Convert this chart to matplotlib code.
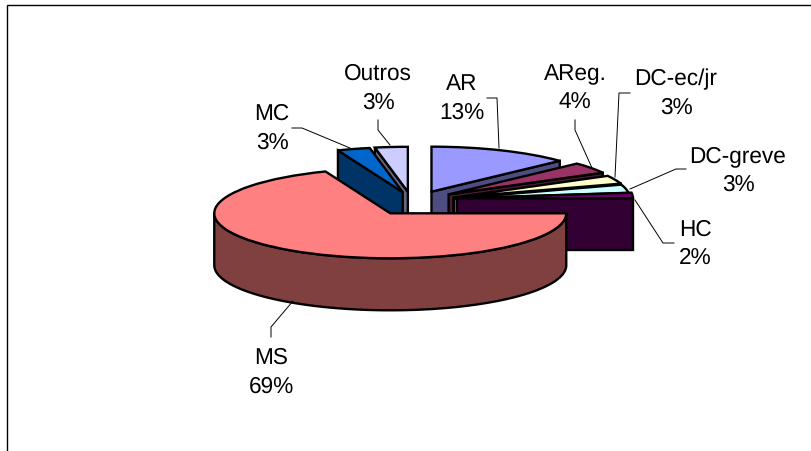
import numpy as np
import matplotlib
matplotlib.use("Agg")
import matplotlib.pyplot as plt
from matplotlib.patches import Polygon

plt.rcParams["font.family"] = ["Liberation Sans", "DejaVu Sans"]
plt.rcParams["text.hinting"] = "none"

# slices, clockwise from 12 o'clock
categories = ["AR", "AReg.", "DC-ec/jr", "DC-greve", "HC", "MS", "MC", "Outros"]
values = [13, 4, 3, 3, 2, 69, 3, 3]

top_colors = ["#9999FF", "#993366", "#FFFFCC", "#CCFFFF", "#660066", "#FF8080", "#0066CC", "#CCCCFF"]
side_colors = ["#4D4D80", "#4D1A33", "#808066", "#668080", "#330033", "#804040", "#003366", "#666680"]

# pixel layout of the squashed pie
CX, CY = 415, 204
RX, RY = 176, 45
DEPTH = 52 / RY
W, H = 811, 451
LW = 1.7

# back to front
draw_order = [0, 1, 2, 3, 4, 7, 6, 5]

# small shifts of each exploded slice, pixels
nudges = [(-1, -2), (-2, -3), (-2, -2), (-4, -3), (-2, -5), (0, 0), (0, -1), (-3, -1)]

label_xy = [(462, 98.5), (575, 89), (676, 93.5), (738, 170.5), (695, 244), (271, 372.5), (272, 128.5), (378, 88.5)]
leaders = [
    [(487, 98), (497, 98), (499, 148)],
    [(575, 120), (575, 130), (592, 168)],
    [(630, 93), (619, 93), (615, 177)],
    [(686, 169), (676, 169), (630, 189)],
    [(674, 243), (663, 243), (635, 200)],
    [(271, 337), (271, 327), (293, 301)],
    [(292, 128), (302, 128), (350, 148)],
    [(378, 120), (378, 130), (390, 145)],
]

fig = plt.figure(figsize=(W / 100, H / 100), dpi=100)
ax = fig.add_axes([0, 0, 1, 1])
wedges, _ = ax.pie(
    values,
    explode=[0.25] * len(values),
    colors=top_colors,
    startangle=90,
    counterclock=False,
    wedgeprops={"edgecolor": "black", "linewidth": LW},
)
ax.set_aspect("auto")
ax.set_xlim(-CX / RX, (W - CX) / RX)
ax.set_ylim((CY - H) / RY, CY / RY)
ax.axis("off")


def point(w, deg):
    t = np.radians(deg)
    return w.center[0] + w.r * np.cos(t), w.center[1] + w.r * np.sin(t)


for z, i in enumerate(draw_order):
    w = wedges[i]
    dx, dy = nudges[i]
    w.set_center((w.center[0] + dx / RX, w.center[1] - dy / RY))
    mid = np.radians((w.theta1 + w.theta2) / 2)
    # the cut face that looks towards the viewer
    edge = w.theta2 if np.cos(mid) < 0 else w.theta1
    ex, ey = point(w, edge)
    cx, cy = w.center
    if categories[i] != "MS":
        face = [(cx, cy), (ex, ey), (ex, ey - DEPTH), (cx, cy - DEPTH)]
        ax.add_patch(Polygon(face, closed=True, fc=side_colors[i], ec="black", lw=LW, zorder=3 * z + 1))
    # outer wall, only the front half of the rim shows
    lo, hi = max(w.theta1, -180), min(w.theta2, 0)
    if lo < hi:
        ts = np.linspace(lo, hi, 80)
        rim = [point(w, t) for t in ts]
        low = [(x, y - DEPTH) for x, y in rim[::-1]]
        ax.add_patch(Polygon(rim + low, closed=True, fc=side_colors[i], ec="black", lw=LW, zorder=3 * z + 1))
    w.set_zorder(3 * z + 2)

# labels, leaders and frame work in plain pixels
over = fig.add_axes([0, 0, 1, 1])
over.set_xlim(0, W)
over.set_ylim(H, 0)
over.axis("off")
over.patch.set_alpha(0)

over.plot([W, 7, 7], [4.5, 4.5, H], color="black", lw=1.0, solid_joinstyle="miter")

for name, val, (x, y), pts in zip(categories, values, label_xy, leaders):
    over.text(x, y, f"{name}\n{val}%", ha="center", va="center", fontsize=16.3, linespacing=1.44)
    xs, ys = zip(*pts)
    over.plot(xs, ys, color="black", lw=0.7)

fig.savefig("out.png", dpi=100)
plt.close(fig)
